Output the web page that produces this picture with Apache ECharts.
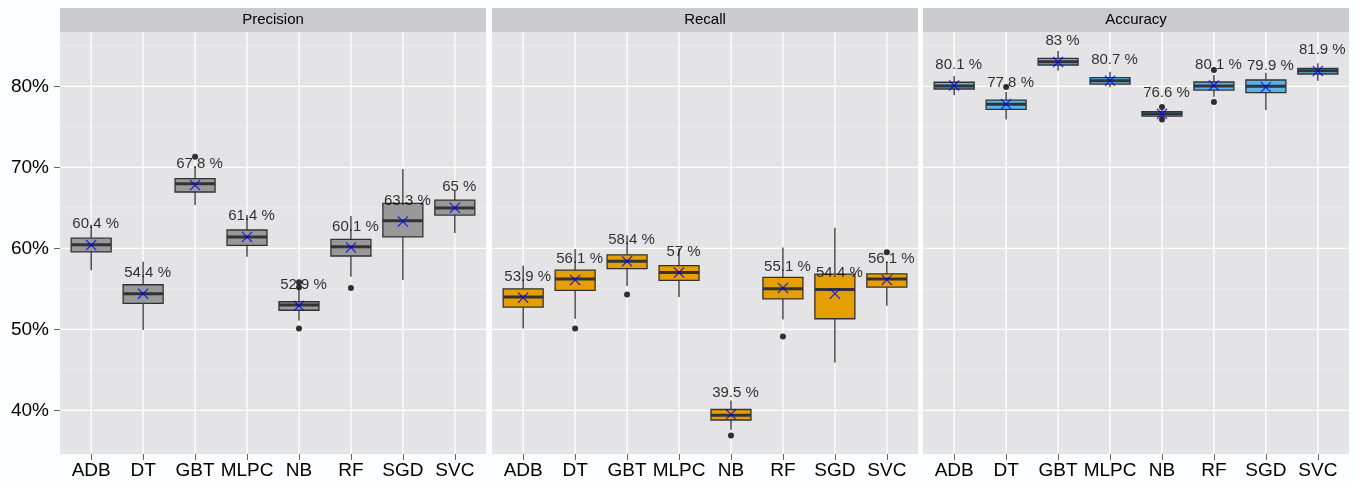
<!DOCTYPE html>
<html><head><meta charset="utf-8">
<script src="https://cdn.jsdelivr.net/npm/echarts@6/dist/echarts.min.js"></script>
<style>html,body{margin:0;padding:0;background:#FBFEFE;} #c{width:1356px;height:482px;}</style>
</head><body><div id="c"></div><script>
// ---------------- data ----------------
const classifiers = ['ADB','DT','GBT','MLPC','NB','RF','SGD','SVC'];
const metrics = ['Precision','Recall','Accuracy'];
const yTicks = [40,50,60,70,80];
const yMinor = [35,45,55,65,75,85];

// [lower whisker, Q1, median, Q3, upper whisker]
const precisionBox = [
  [57.3, 59.55, 60.45, 61.25, 62.9],
  [49.9, 53.2, 54.4, 55.5, 58.35],
  [65.35, 66.95, 67.98, 68.6, 70.1],
  [58.96, 60.37, 61.4, 62.26, 64.1],
  [51.1, 52.35, 53.0, 53.4, 54.85],
  [56.5, 59.05, 60.2, 61.1, 64.0],
  [56.1, 61.4, 63.4, 65.55, 69.8],
  [61.9, 64.1, 64.98, 65.96, 67.1]
];
const precisionMean = [60.4, 54.4, 67.8, 61.4, 52.9, 60.1, 63.3, 65];
const precisionOutliers = [[], [], [71.3], [], [55.8, 55.2, 50.1], [55.1], [], []];

const recallBox = [
  [50.1, 52.75, 54.0, 55.0, 57.85],
  [51.3, 54.8, 56.2, 57.3, 59.9],
  [55.35, 57.5, 58.4, 59.2, 61.6],
  [54.0, 56.05, 57.0, 57.85, 60.0],
  [37.6, 38.8, 39.4, 40.1, 41.2],
  [51.2, 53.75, 55.0, 56.4, 60.1],
  [45.9, 51.3, 54.9, 56.8, 62.55],
  [52.9, 55.2, 56.2, 56.85, 58.35]
];
const recallMean = [53.9, 56.1, 58.4, 57, 39.5, 55.1, 54.4, 56.1];
const recallOutliers = [[], [50.1], [54.3], [], [36.9], [49.1], [], [59.5]];

const accuracyBox = [
  [78.9, 79.67, 80.04, 80.5, 81.27],
  [75.9, 77.16, 77.78, 78.3, 79.3],
  [81.93, 82.63, 83.04, 83.46, 84.36],
  [79.88, 80.28, 80.7, 81.07, 81.8],
  [76.1, 76.33, 76.6, 76.87, 77.1],
  [78.7, 79.54, 80.04, 80.53, 81.4],
  [77.07, 79.21, 80.0, 80.78, 81.68],
  [80.7, 81.52, 81.93, 82.22, 82.84]
];
const accuracyMean = [80.1, 77.8, 83, 80.7, 76.6, 80.1, 79.9, 81.9];
const accuracyOutliers = [[], [79.9], [], [], [77.45, 75.9], [82.0, 78.06], [], []];

// ---------------- styling / layout ----------------
const boxes = [precisionBox, recallBox, accuracyBox];
const means = [precisionMean, recallMean, accuracyMean];
const outliers = [precisionOutliers, recallOutliers, accuracyOutliers];
const fills = ['#999999', '#E69F00', '#56B4E9'];
const FONT = '"Liberation Sans", Arial, Helvetica, sans-serif';
const INK = '#000000';
const EDGE = '#333333';
const panels = [{left: 60, width: 426}, {left: 492, width: 426}, {left: 923, width: 426}];
const PTOP = 32, PH = 422;
const xPos = classifiers.map((c, k) => k + 1);
const XPATH = 'path://M0,8 L8,0 L50,42 L92,0 L100,8 L58,50 L100,92 L92,100 L50,58 L8,100 L0,92 L42,50 Z';

const grid = [], xAxis = [], yAxis = [], series = [], graphic = [];
panels.forEach((p, i) => {
  grid.push({left: p.left, width: p.width, top: PTOP, height: PH, show: true,
    backgroundColor: '#E4E3E6', borderWidth: 0, containLabel: false});
  xAxis.push({type: 'value', gridIndex: i, min: 0.4, max: 8.6,
    axisLine: {show: false}, splitLine: {show: false},
    axisTick: {show: true, customValues: xPos, length: 6, lineStyle: {color: '#666', width: 1}},
    axisLabel: {customValues: xPos, formatter: v => classifiers[Math.round(v) - 1],
      fontSize: 19, color: INK, margin: 7, fontFamily: FONT}});
  yAxis.push({type: 'value', gridIndex: i, min: 34.605, max: 86.704,
    axisLine: {show: false}, splitLine: {show: false},
    axisTick: {show: i === 0, customValues: yTicks, length: 6, lineStyle: {color: '#666', width: 1}},
    axisLabel: {show: i === 0, customValues: yTicks, formatter: v => v + '%',
      fontSize: 19, color: INK, margin: 11, fontFamily: FONT}});

  // horizontal grid lines
  series.push({type: 'custom', xAxisIndex: i, yAxisIndex: i, z: 1, silent: true, clip: false,
    data: yTicks.map(v => [1, v, 1]).concat(yMinor.map(v => [1, v, 0])),
    encode: {x: 0, y: 1},
    renderItem: (params, api) => {
      const cs = params.coordSys;
      const y = api.coord([1, api.value(1)])[1];
      const major = api.value(2) === 1;
      return {type: 'line', shape: {x1: cs.x, y1: y, x2: cs.x + cs.width, y2: y},
        style: {stroke: major ? '#FFFFFF' : '#F1F0F3', lineWidth: major ? 1.3 : 0.7}};
    }});
  // vertical grid lines
  series.push({type: 'custom', xAxisIndex: i, yAxisIndex: i, z: 1, silent: true, clip: false,
    data: xPos.map(x => [x, 60]),
    encode: {x: 0, y: 1},
    renderItem: (params, api) => {
      const cs = params.coordSys;
      const x = api.coord([api.value(0), 60])[0];
      return {type: 'line', shape: {x1: x, y1: cs.y, x2: x, y2: cs.y + cs.height},
        style: {stroke: '#FFFFFF', lineWidth: 1.3}};
    }});
  // boxes
  const fill = fills[i];
  series.push({type: 'custom', xAxisIndex: i, yAxisIndex: i, z: 3, silent: true,
    data: boxes[i].map((b, k) => [k + 1].concat(b)),
    encode: {x: 0, y: [1, 2, 3, 4, 5]},
    renderItem: (params, api) => {
      const x = api.value(0);
      const pLow = api.coord([x, api.value(1)]);
      const pQ1 = api.coord([x, api.value(2)]);
      const pMed = api.coord([x, api.value(3)]);
      const pQ3 = api.coord([x, api.value(4)]);
      const pHigh = api.coord([x, api.value(5)]);
      const w = api.size([1, 0])[0] * 0.77;
      const cx = pLow[0];
      const ls = {stroke: EDGE, lineWidth: 1.3};
      return {type: 'group', children: [
        {type: 'line', shape: {x1: cx, y1: pHigh[1], x2: cx, y2: pQ3[1]}, style: ls},
        {type: 'line', shape: {x1: cx, y1: pQ1[1], x2: cx, y2: pLow[1]}, style: ls},
        {type: 'rect', shape: {x: cx - w / 2, y: pQ3[1], width: w, height: pQ1[1] - pQ3[1]},
          style: {fill: fill, stroke: EDGE, lineWidth: 1.3}},
        {type: 'line', shape: {x1: cx - w / 2, y1: pMed[1], x2: cx + w / 2, y2: pMed[1]},
          style: {stroke: EDGE, lineWidth: 3}}
      ]};
    }});
  // outliers
  const od = [];
  outliers[i].forEach((arr, k) => arr.forEach(v => od.push([k + 1, v])));
  series.push({type: 'scatter', xAxisIndex: i, yAxisIndex: i, z: 4, silent: true,
    data: od, symbol: 'circle', symbolSize: 6, itemStyle: {color: '#000000'}});
  // means + labels
  series.push({type: 'scatter', xAxisIndex: i, yAxisIndex: i, z: 5, silent: true,
    data: means[i].map((m, k) => [k + 1, m]), symbol: XPATH, symbolSize: 11,
    itemStyle: {color: '#0000FF'},
    label: {show: true, position: 'inside', offset: [4.5, -21],
      formatter: p => p.value[1] + ' %', fontSize: 15, color: INK, fontFamily: FONT}});

  // facet strip
  graphic.push({type: 'rect', shape: {x: p.left, y: 8, width: p.width, height: 24},
    style: {fill: '#CBCACC'}, silent: true});
  graphic.push({type: 'text', x: p.left + p.width / 2, y: 20, silent: true,
    style: {text: metrics[i], align: 'center', verticalAlign: 'middle',
      fontSize: 15, fontFamily: FONT, fill: INK}});
});

const chart = echarts.init(document.getElementById('c'), null, {renderer: 'canvas'});
chart.setOption({
  backgroundColor: '#FBFEFE',
  animation: false,
  grid, xAxis, yAxis, series, graphic
});
</script></body></html>
